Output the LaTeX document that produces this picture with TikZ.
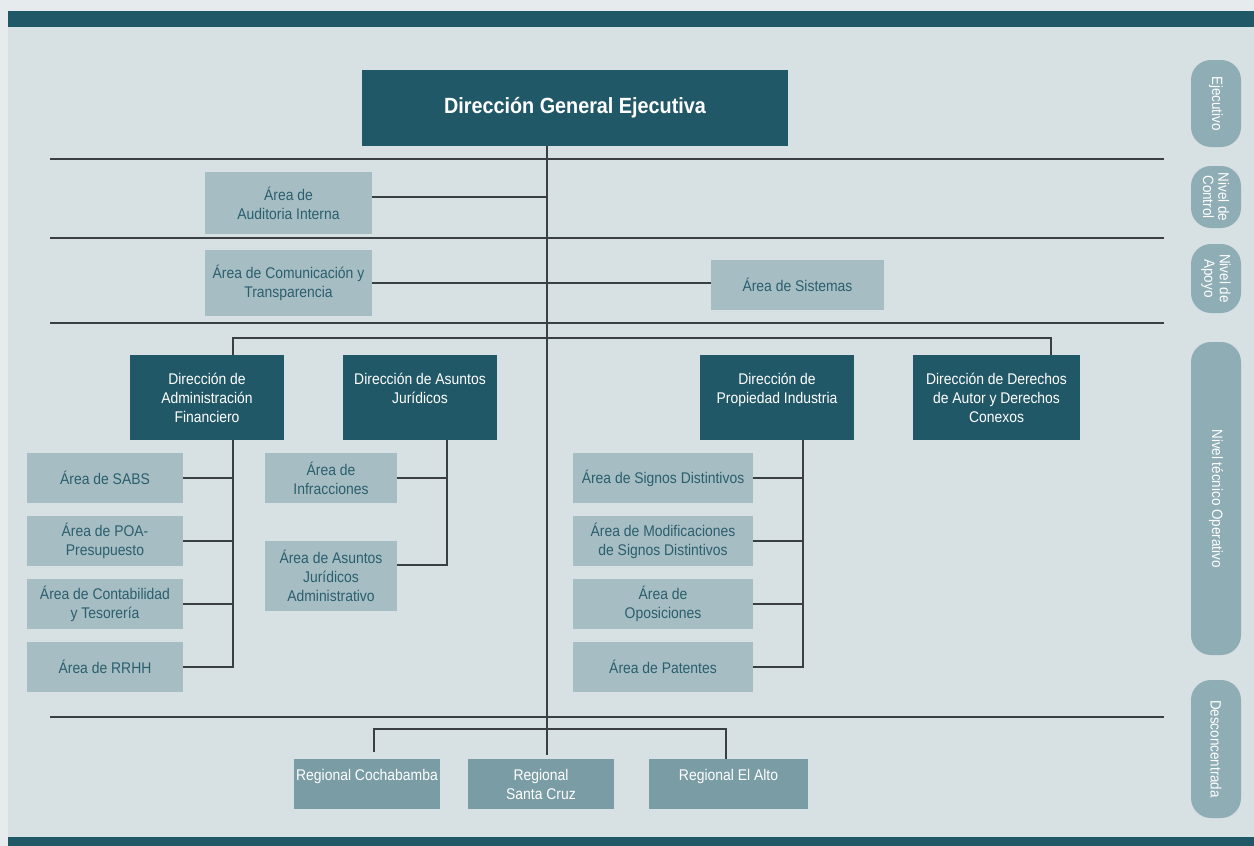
\documentclass[tikz,border=0pt]{standalone}
\usepackage{fontspec}
\setmainfont{Liberation Sans}[FakeStretch=0.9]
\definecolor{outerbg}{HTML}{E6ECEE}
\definecolor{panelbg}{HTML}{D7E0E3}
\definecolor{darkc}{HTML}{215867}
\definecolor{lightbox}{HTML}{A6BDC3}
\definecolor{regbox}{HTML}{7A9CA5}
\definecolor{pillc}{HTML}{8FADB5}
\definecolor{linec}{HTML}{3A3F44}
\definecolor{lighttext}{HTML}{2B5F6D}
\newcommand\bx[7]{\node[#6, anchor=north west, minimum width={(#4-#2)*0.75pt}, minimum height={(#5-#3)*0.75pt}] (#1) at (#2,#3) {#7};}
\tikzset{
  basebox/.style={inner sep=0pt, outer sep=0pt, align=center, font=\fontsize{11.6}{14.25}\selectfont},
  lbox/.style={basebox, fill=lightbox, text=lighttext},
  dbox/.style={basebox, fill=darkc, text=white},
  rbox/.style={basebox, fill=regbox, text=white},
  pill/.style={fill=pillc, text=white, rounded corners=15pt, rotate=-90, inner sep=0pt, align=center, minimum height=37.5pt, font=\fontsize{11.2}{11.5}\selectfont},
  conn/.style={draw=linec, line width=1.7pt},
  sep/.style={draw=linec, line width=1.7pt}
}
\begin{document}
\begin{tikzpicture}[x=0.75pt,y=-0.75pt]
\useasboundingbox (0,0) rectangle (1254,846);
\fill[outerbg] (0,0) rectangle (1254,846);
\fill[panelbg] (8,11) rectangle (1254,846);
\fill[darkc] (8,11) rectangle (1254,27);
\fill[darkc] (8,837) rectangle (1254,846);

% separator lines
\foreach \yy in {159,238,323,717} { \draw[sep] (50,\yy) -- (1164,\yy); }

% boxes
\bx{dge}{362}{70}{788}{146}{dbox, font=\fontsize{16.5}{20}\selectfont\bfseries}{Dirección General Ejecutiva}
\bx{aud}{205}{172}{372}{234}{lbox}{Área de\\Auditoria Interna}
\bx{com}{205}{250}{372}{316}{lbox}{Área de Comunicación y\\Transparencia}
\bx{sis}{711}{260}{884}{310}{lbox}{Área de Sistemas}

\bx{adm}{130}{355}{284}{440}{dbox}{Dirección de\\Administración\\Financiero}
\bx{daj}{343}{355}{497}{440}{dbox}{Dirección de Asuntos\\Jurídicos\\\mbox{}}
\bx{dpi}{700}{355}{854}{440}{dbox}{Dirección de\\Propiedad Industria\\\mbox{}}
\bx{dda}{913}{355}{1080}{440}{dbox}{Dirección de Derechos\\de Autor y Derechos\\Conexos}

\bx{sabs}{27}{453}{183}{503}{lbox}{Área de SABS}
\bx{poa}{27}{516}{183}{566}{lbox}{Área de POA-\\Presupuesto}
\bx{cont}{27}{579}{183}{629}{lbox}{Área de Contabilidad\\y Tesorería}
\bx{rrhh}{27}{642}{183}{692}{lbox}{Área de RRHH}

\bx{inf}{265}{453}{397}{503}{lbox}{Área de\\Infracciones}
\bx{aja}{265}{541}{397}{611}{lbox}{Área de Asuntos\\Jurídicos\\Administrativo}

\bx{sig}{573}{453}{753}{503}{lbox}{Área de Signos Distintivos}
\bx{mod}{573}{516}{753}{566}{lbox}{Área de Modificaciones\\de Signos Distintivos}
\bx{opo}{573}{579}{753}{629}{lbox}{Área de\\Oposiciones}
\bx{pat}{573}{642}{753}{692}{lbox}{Área de Patentes}

\bx{coc}{294}{759}{440}{809}{rbox}{Regional Cochabamba\\\mbox{}}
\bx{sc}{468}{759}{614}{809}{rbox}{Regional\\Santa Cruz}
\bx{alt}{649}{759}{808}{809}{rbox}{Regional El Alto\\\mbox{}}

% pills
\node[pill, minimum width=65.25pt] (pe) at (1216,103.5) {Ejecutivo};
\node[pill, minimum width=46.5pt] (pc) at (1216,197) {Nivel de\\Control};
\node[pill, minimum width=51.75pt] (pa) at (1216,278.5) {Nivel de\\Apoyo};
\node[pill, minimum width=234.75pt] (po) at (1216,498.5) {Nivel técnico Operativo};
\node[pill, minimum width=103.5pt] (pd) at (1216,749) {Desconcentrada};

% coordinates
\coordinate (sp) at (547,0);
\coordinate (b1) at (233,338);
\coordinate (b2) at (1051,338);
\coordinate (v2) at (447,0);
\coordinate (v3) at (803,0);
\coordinate (b3) at (374,729);
\coordinate (b4) at (726,729);

% connectors
\draw[conn] (dge.south -| sp) -- ([yshift=3pt]sc.north -| sp);
\draw[conn] ([yshift=4.5pt]aud.east) -- ([yshift=4.5pt]aud.east -| sp);
\draw[conn] (com.east) -- (com.east -| sis.west);
\draw[conn] (adm.north -| b1) -- (b1) -- (b2) -- (dda.north -| b2);

\draw[conn] (adm.south -| b1) |- (rrhh.east);
\draw[conn] (sabs.east) -- (sabs.east -| b1);
\draw[conn] (poa.east) -- (poa.east -| b1);
\draw[conn] (cont.east) -- (cont.east -| b1);

\draw[conn] (daj.south -| v2) |- ([yshift=8pt]aja.east);
\draw[conn] (inf.east) -- (inf.east -| v2);

\draw[conn] (dpi.south -| v3) |- (pat.east);
\draw[conn] (sig.east) -- (sig.east -| v3);
\draw[conn] (mod.east) -- (mod.east -| v3);
\draw[conn] (opo.east) -- (opo.east -| v3);

\draw[conn] ([yshift=5pt]coc.north -| b3) -- (b3) -- (b4) -- (alt.north -| b4);
\end{tikzpicture}
\end{document}
